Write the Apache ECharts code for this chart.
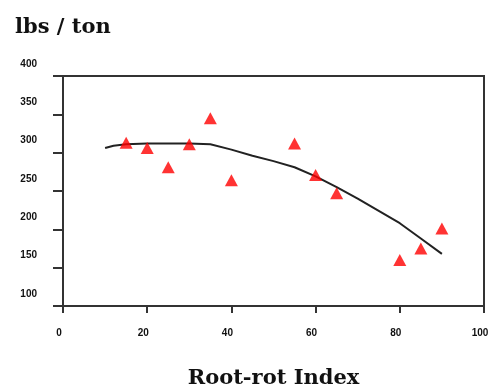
<!DOCTYPE html>
<html>
<head>
<meta charset="utf-8">
<script src="https://cdn.jsdelivr.net/npm/echarts@6/dist/echarts.min.js"></script>
<style>html,body{margin:0;padding:0;background:#fff}#c{width:493px;height:389px}</style>
</head>
<body>
<div id="c"></div>
<script>
// Observed points (Root-rot Index, lbs/ton)
const obsX = [15, 20, 25, 30, 35, 40, 55, 60, 65, 80, 85, 90];
const obsY = [313, 306, 281, 311, 345, 264, 312, 271, 247, 160, 175, 201];
// Fitted curve
const fitX = [10, 12, 15, 20, 25, 30, 35, 40, 45, 50, 55, 60, 65, 70, 75, 80, 85, 90];
const fitY = [306, 309, 311, 312, 312, 312, 311, 304, 296, 289, 281, 269, 255, 240, 224, 208, 188, 168];
const xTicks = [0, 20, 40, 60, 80, 100];
const yTicks = [100, 150, 200, 250, 300, 350, 400];

const chart = echarts.init(document.getElementById('c'));
const lineStyle = {color: '#333', width: 2};
chart.setOption({
  animation: false,
  backgroundColor: '#fff',
  title: {
    text: 'lbs / ton', left: 10, top: 12,
    textStyle: {fontFamily: 'DejaVu Serif', fontWeight: 'bold', fontSize: 21, color: '#111'}
  },
  grid: {left: 63, right: 9, top: 76, bottom: 83, show: true, borderColor: '#333', borderWidth: 2,
    containLabel: false, outerBoundsMode: 'none'},
  xAxis: {
    type: 'value', min: xTicks[0], max: xTicks[xTicks.length - 1], interval: 20,
    name: 'Root-rot Index', nameLocation: 'middle', nameGap: 62,
    nameTextStyle: {fontFamily: 'DejaVu Serif', fontWeight: 'bold', fontSize: 21, color: '#111'},
    axisLine: {show: true, lineStyle: lineStyle},
    axisTick: {show: true, length: 7, lineStyle: lineStyle},
    axisLabel: {margin: 22, padding: [0, 8, 0, 0], fontFamily: 'Liberation Sans', fontWeight: 'bold', fontSize: 10, color: '#111'},
    splitLine: {show: false}
  },
  yAxis: {
    type: 'value', min: yTicks[0], max: yTicks[yTicks.length - 1], interval: 50,
    axisLine: {show: true, lineStyle: lineStyle},
    axisTick: {show: true, length: 10, lineStyle: lineStyle},
    axisLabel: {margin: 26, verticalAlign: 'bottom', padding: [0, 0, 7, 0],
      fontFamily: 'Liberation Sans', fontWeight: 'bold', fontSize: 10, color: '#111'},
    splitLine: {show: false}
  },
  series: [
    {
      type: 'line', data: fitX.map((x, i) => [x, fitY[i]]),
      symbol: 'none', lineStyle: {color: '#222', width: 2}, z: 2
    },
    {
      type: 'scatter', data: obsX.map((x, i) => [x, obsY[i]]),
      symbol: 'triangle', symbolSize: [13, 12], itemStyle: {color: '#ff0000'}, z: 3
    }
  ]
});
</script>
</body>
</html>
